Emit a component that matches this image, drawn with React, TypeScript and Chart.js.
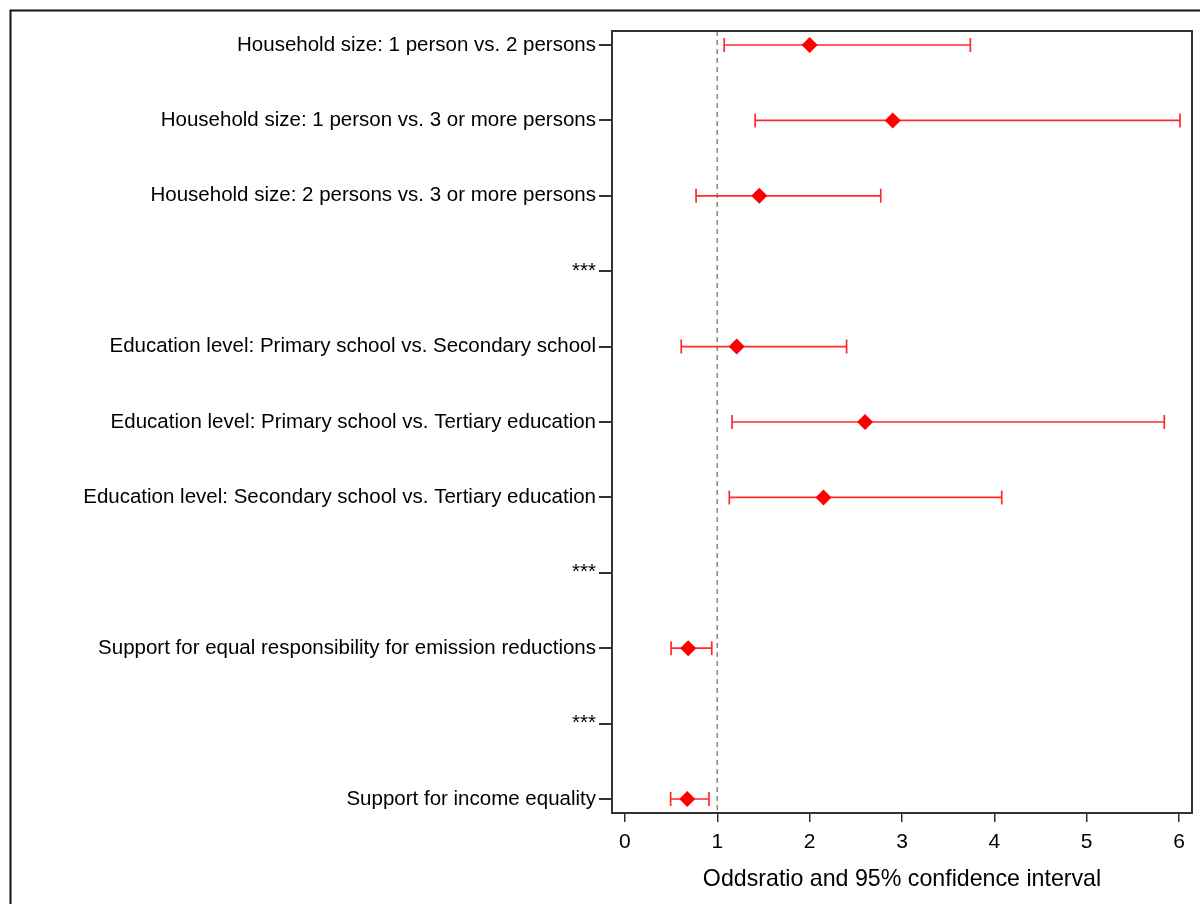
import React, { useEffect, useRef } from "react";
import { Chart, registerables } from "chart.js";

Chart.register(...registerables);

const rowLabels: string[] = [
  "Household size: 1 person vs. 2 persons",
  "Household size: 1 person vs. 3 or more persons",
  "Household size: 2 persons vs. 3 or more persons",
  "***",
  "Education level: Primary school vs. Secondary school",
  "Education level: Primary school vs. Tertiary education",
  "Education level: Secondary school vs. Tertiary education",
  "***",
  "Support for equal responsibility for emission reductions",
  "***",
  "Support for income equality",
];

const oddsRatio: (number | null)[] = [2.0, 2.9, 1.455, null, 1.21, 2.6, 2.15, null, 0.685, null, 0.675];
const lowerCI: (number | null)[] = [1.075, 1.41, 0.77, null, 0.61, 1.16, 1.13, null, 0.5, null, 0.495];
const upperCI: (number | null)[] = [3.74, 6.01, 2.77, null, 2.4, 5.84, 4.08, null, 0.94, null, 0.91];

const xTicks: number[] = [0, 1, 2, 3, 4, 5, 6];
const referenceValue = 1;
const xTitle = "Oddsratio and 95% confidence interval";

const FONT = "'Liberation Sans', Arial, sans-serif";

export default function App() {
  const ref = useRef<HTMLCanvasElement | null>(null);

  useEffect(() => {
    if (!ref.current) return;

    const framePlugin = {
      id: "frameAndBars",
      beforeDraw(chart: any) {
        const ctx = chart.ctx;
        ctx.save();
        ctx.fillStyle = "#fff";
        ctx.fillRect(0, 0, chart.width, chart.height);
        // outer frame
        ctx.strokeStyle = "#111";
        ctx.lineWidth = 2;
        ctx.beginPath();
        ctx.moveTo(10.5, chart.height);
        ctx.lineTo(10.5, 10.5);
        ctx.lineTo(chart.width, 10.5);
        ctx.stroke();
        ctx.restore();
      },
      beforeDatasetsDraw(chart: any) {
        const ctx = chart.ctx;
        const xs = chart.scales.x;
        const ys = chart.scales.y;
        const area = chart.chartArea;
        ctx.save();
        // reference line
        const rx = xs.getPixelForValue(referenceValue);
        ctx.strokeStyle = "#888";
        ctx.lineWidth = 1.5;
        ctx.setLineDash([5, 4]);
        ctx.beginPath();
        ctx.moveTo(rx, area.top);
        ctx.lineTo(rx, area.bottom);
        ctx.stroke();
        ctx.setLineDash([]);
        // error bars
        ctx.strokeStyle = "#ff2a2a";
        ctx.lineWidth = 1.7;
        for (let i = 0; i < rowLabels.length; i++) {
          const lo = lowerCI[i];
          const hi = upperCI[i];
          if (lo == null || hi == null) continue;
          const y = ys.getPixelForValue(i);
          const x1 = xs.getPixelForValue(lo);
          const x2 = xs.getPixelForValue(hi);
          ctx.beginPath();
          ctx.moveTo(x1, y);
          ctx.lineTo(x2, y);
          ctx.moveTo(x1, y - 7);
          ctx.lineTo(x1, y + 7);
          ctx.moveTo(x2, y - 7);
          ctx.lineTo(x2, y + 7);
          ctx.stroke();
        }
        ctx.restore();
      },
      afterDatasetsDraw(chart: any) {
        const ctx = chart.ctx;
        const a = chart.chartArea;
        ctx.save();
        ctx.strokeStyle = "#333";
        ctx.lineWidth = 2;
        ctx.strokeRect(a.left, a.top, a.right - a.left, a.bottom - a.top);
        ctx.restore();
      },
    };

    const points = oddsRatio
      .map((v, i) => (v == null ? null : { x: v, y: i }))
      .filter((p) => p !== null) as { x: number; y: number }[];

    const chart = new Chart(ref.current, {
      type: "scatter",
      data: {
        datasets: [
          {
            data: points,
            pointStyle: "rectRot",
            pointRadius: 8,
            pointHoverRadius: 8,
            backgroundColor: "#ff0000",
            borderColor: "#ff0000",
            borderWidth: 0,
          },
        ],
      },
      options: {
        responsive: false,
        animation: false,
        events: [],
        layout: { padding: { left: 0, right: 8, top: 31, bottom: 0 } },
        plugins: { legend: { display: false }, tooltip: { enabled: false } },
        scales: {
          x: {
            type: "linear",
            min: -0.14,
            max: 6.14,
            afterBuildTicks: (axis: any) => {
              axis.ticks = xTicks.map((v) => ({ value: v }));
            },
            afterFit: (axis: any) => {
              axis.height = 91;
            },
            grid: {
              drawOnChartArea: false,
              drawTicks: true,
              tickLength: 9,
              color: "#333",
              lineWidth: 1.5,
            },
            border: { display: false },
            ticks: {
              color: "#000",
              padding: 8,
              font: { family: FONT, size: 21 },
              maxRotation: 0,
              autoSkip: false,
            },
            title: {
              display: true,
              text: xTitle,
              color: "#000",
              font: { family: FONT, size: 23.2 },
              padding: { top: 0, bottom: 10 },
            },
          },
          y: {
            type: "linear",
            reverse: true,
            min: -0.186,
            max: 10.186,
            afterBuildTicks: (axis: any) => {
              axis.ticks = rowLabels.map((_, i) => ({ value: i }));
            },
            afterFit: (axis: any) => {
              axis.width = 612;
            },
            grid: {
              drawOnChartArea: false,
              drawTicks: true,
              tickLength: 13,
              color: "#333",
              lineWidth: 2,
            },
            border: { display: false },
            ticks: {
              color: "#000",
              padding: 3,
              autoSkip: false,
              font: { family: FONT, size: 20.5 },
              callback: (v: any) => rowLabels[Math.round(Number(v))] ?? "",
            },
          },
        },
      },
      plugins: [framePlugin],
    });

    return () => chart.destroy();
  }, []);

  return (
    <div style={{ position: "fixed", left: 0, top: 0, width: 1200, height: 904, background: "#fff" }}>
      <canvas ref={ref} width={1200} height={904} style={{ display: "block" }} />
    </div>
  );
}
